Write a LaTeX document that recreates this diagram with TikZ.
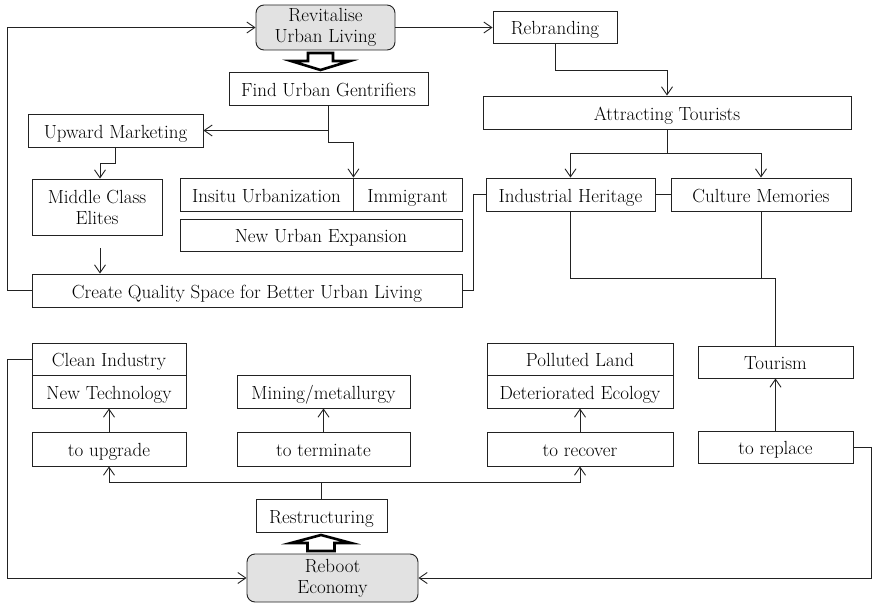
\documentclass[tikz,border=0pt]{standalone}
\usetikzlibrary{arrows.meta}
\definecolor{linec}{HTML}{222222}
\definecolor{boxfill}{HTML}{E2E2E2}
\tikzset{
  base/.style={draw=linec, line width=0.9pt, inner sep=0pt, align=center,
    font=\fontsize{19}{21}\selectfont},
  box/.style={base, text height=18.5pt, text depth=3pt},
  mbox/.style={base},
  rbox/.style={base, rounded corners=8pt, fill=boxfill},
  conn/.style={draw=linec, line width=0.9pt},
  arr/.style={conn, -{Straight Barb[length=8pt,width=11pt]}},
  hollow/.style={draw=black, line width=2.6pt, fill=white, line join=miter}
}
\begin{document}
\begin{tikzpicture}[x=1pt,y=-1pt]
\useasboundingbox (0,0) rectangle (872,604);
% top part
\node[rbox, minimum width=139pt, minimum height=45pt] (rev) at (325.5,27.5) {Revitalise\\Urban Living};
\node[box, minimum width=199pt, minimum height=33pt] (find) at (328.5,88.5) {Find Urban Gentrifiers};
\node[box, minimum width=175pt, minimum height=33pt] (up) at (115.5,130.5) {Upward Marketing};
\node[mbox, minimum width=130pt, minimum height=56pt] (mid) at (97,207) {Middle Class\\Elites};
\node[box, minimum width=173pt, minimum height=33pt] (ins) at (266.5,194.5) {Insitu Urbanization};
\node[box, minimum width=109pt, minimum height=33pt] (imm) at (407.5,194.5) {Immigrant};
\node[box, minimum width=282pt, minimum height=32pt] (nue) at (321,235) {New Urban Expansion};
\node[box, minimum width=430pt, minimum height=33pt] (cq) at (247,290.5) {Create Quality Space for Better Urban Living};
\node[box, minimum width=124pt, minimum height=32pt] (reb) at (555,27) {Rebranding};
\node[box, minimum width=368pt, minimum height=33pt] (att) at (667,112.5) {Attracting Tourists};
\node[box, minimum width=169pt, minimum height=33pt] (ih) at (570.5,194.5) {Industrial Heritage};
\node[box, minimum width=180pt, minimum height=33pt] (cm) at (761,194.5) {Culture Memories};
% bottom part
\node[box, minimum width=155pt, minimum height=32pt] (tour) at (775.5,362) {Tourism};
\node[box, minimum width=155pt, minimum height=32pt] (rep) at (775.5,447) {to replace};
\node[box, minimum width=154pt, minimum height=32pt] (ci) at (109,359) {Clean Industry};
\node[box, minimum width=154pt, minimum height=33pt] (nt) at (109,391.5) {New Technology};
\node[box, minimum width=154pt, minimum height=34pt] (upg) at (109,449) {to upgrade};
\node[box, minimum width=173pt, minimum height=33pt] (mm) at (323.5,391.5) {Mining/metallurgy};
\node[box, minimum width=173pt, minimum height=34pt] (term) at (323.5,449) {to terminate};
\node[box, minimum width=186pt, minimum height=32pt] (pl) at (580,359) {Polluted Land};
\node[box, minimum width=186pt, minimum height=33pt] (de) at (580,391.5) {Deteriorated Ecology};
\node[box, minimum width=186pt, minimum height=34pt] (rec) at (580,449) {to recover};
\node[box, minimum width=131pt, minimum height=33pt] (rs) at (321.5,515.5) {Restructuring};
\node[rbox, minimum width=171pt, minimum height=48pt] (rbe) at (332.5,578) {Reboot\\Economy};

\coordinate (L) at (7,0);
\coordinate (R) at (871,0);

% hollow arrows
\draw[hollow] (308,53) -- (333,53) -- (333,61) -- (350,61) -- (320.5,70) -- (291,61) -- (308,61) -- cycle;
\draw[hollow] (307.5,551) -- (334.5,551) -- (334.5,543) -- (351,543) -- (321,535) -- (291,543) -- (307.5,543) -- cycle;

% top connectors
\draw[arr] (rev.east) -- (rev.east -| reb.west);
\draw[arr] (cq.west) -- (cq.west -| L) |- (rev.west);
\draw[arr] (find.south) |- (up.east);
\draw[arr] (find.south) -- (328.5,142) -| (ins.north east);
\draw[arr] (up.south) -- (115.5,163) -| ([xshift=3pt]mid.north);
\draw[arr] ([xshift=3pt,yshift=-13pt]mid.south) -- ([xshift=3pt]mid.south |- cq.north);
\draw[conn] (cq.east) -- (473,290.5) |- (ih.west);
\draw[conn] (ih.east) -- (cm.west);
\draw[arr] (reb.south) -- (555,70) -| (att.north);
\draw[conn] (att.south) -- (667,153);
\draw[arr] (667,153) -| (ih.north);
\draw[arr] (667,153) -| (cm.north);
\draw[conn] (ih.south) |- (775.5,278) -- (tour.north);
\draw[conn] (cm.south) -- (cm.south |- 0,278);
\draw[arr] (rep.north) -- (tour.south);

% bottom connectors
\draw[arr] (rep.east) -- (rep.east -| R) -- (R |- rbe.east) -- (rbe.east);
\draw[arr] (ci.west) -- (ci.west -| L) -- (L |- rbe.west) -- (rbe.west);
\draw[conn] (rs.north) -- (321.5,482);
\draw[arr] (321.5,482) -| (upg.south);
\draw[arr] (321.5,482) -| (rec.south);
\draw[arr] (upg.north) -- (nt.south);
\draw[arr] (term.north) -- (mm.south);
\draw[arr] (rec.north) -- (de.south);
\end{tikzpicture}
\end{document}
